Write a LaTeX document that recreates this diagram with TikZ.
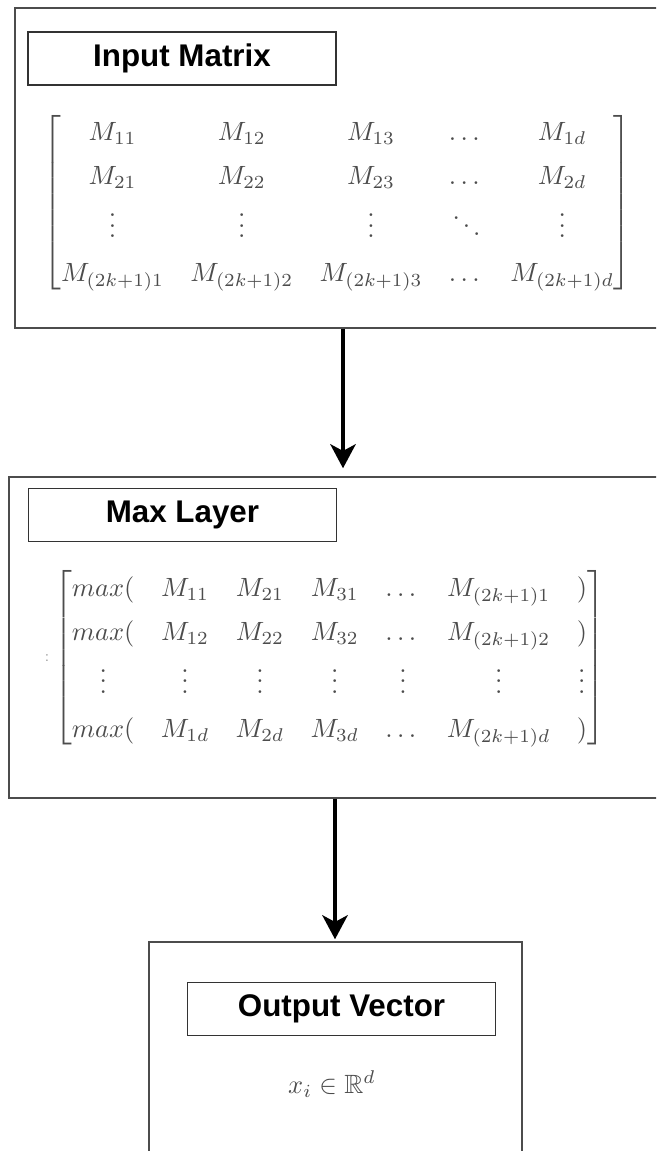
\documentclass[tikz,border=0pt]{standalone}
\usepackage{amsmath, amssymb}
\usepackage{fontspec}
\newfontfamily\headfont{Liberation Sans}
\usetikzlibrary{arrows.meta}
\renewcommand{\arraystretch}{1.39}

\begin{document}
\begin{tikzpicture} [
    x = 0.75pt, y = -0.75pt,
    stage/.style = { draw = black!70, line width = 1.1pt, inner sep = 0 },
    title/.style = { draw = black!80, line width = 1.1pt, inner sep = 0,
      minimum width = 231pt, minimum height = 40pt,
      font = \headfont\bfseries\fontsize{23.5}{28}\selectfont },
    formula/.style = { inner sep = 0, text = black!70 },
    flow/.style = { line width = 3pt, -{Stealth[length = 18pt, width = 19pt, inset = 5pt]} }
    ]
  \useasboundingbox (0,0) rectangle (656,1151);
  \clip (0,0) rectangle (656,1151);

  % outer frames, they run on past the page edge
  \node [stage, minimum width = 492pt, minimum height = 240pt] (input) at (343,168) {};
  \node [stage, minimum width = 489pt, minimum height = 240.75pt] (max) at (335,637.5) {};
  \node [stage, minimum width = 280pt, minimum height = 178.5pt] (output) at (335.5,1061) {};

  \node [title] (inputtitle) at (182,58.5) {Input Matrix};
  \node [title] (maxtitle) at (182.5,515) {Max Layer};
  \node [title] (outputtitle) at (341.5,1009) {Output Vector};

  \node [formula] (inputmat) at (337.5,202.5) {\scalebox{1.98}{$\begin{bmatrix}
      M_{11} & M_{12} & M_{13} & \dots & M_{1d}\\
      M_{21} & M_{22} & M_{23} & \dots & M_{2d}\\
      \vdots & \vdots & \vdots & \ddots & \vdots\\
      M_{(2k+1)1} & M_{(2k+1)2} & M_{(2k+1)3} & \dots & M_{(2k+1)d}
    \end{bmatrix}$}};

  \node [formula] (maxmat) at (329.5,658) {\scalebox{1.98}{$\begin{bmatrix}
      max( & M_{11} & M_{21} & M_{31} & \dots & M_{(2k+1)1} & )\\
      max( & M_{12} & M_{22} & M_{32} & \dots & M_{(2k+1)2} & )\\
      \vdots & \vdots & \vdots & \vdots & \vdots & \vdots & \vdots\\
      max( & M_{1d} & M_{2d} & M_{3d} & \dots & M_{(2k+1)d} & )
    \end{bmatrix}$}};
  \node [formula, text = black!45, font = \fontsize{12}{14}\selectfont] (colon) at (47,658) {$:$};

  \node [formula] (vec) at (332,1084) {\scalebox{1.98}{$x_i \in \mathbb{R}^d$}};

  \draw [flow, shorten > = 6pt] (input.south) -- (input.south |- max.north);
  \draw [flow, shorten > = 1.5pt] (max.south) -- (max.south |- output.north);
\end{tikzpicture}
\end{document}
